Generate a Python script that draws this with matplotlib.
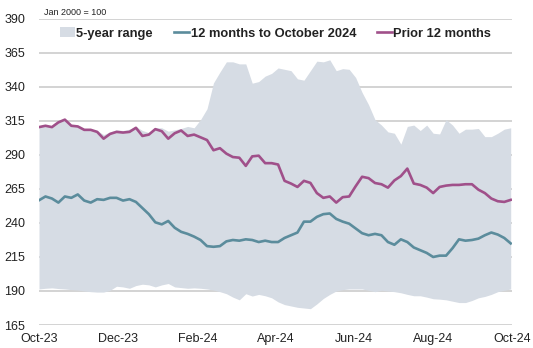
import numpy as np
import pandas as pd
import matplotlib
matplotlib.use("Agg")
import matplotlib.pyplot as plt
import matplotlib.dates as mdates
from matplotlib.patches import Patch
from matplotlib.lines import Line2D

plt.rcParams['font.family'] = ['Liberation Sans', 'DejaVu Sans']

# one reading every 5 days, Oct-23 .. Oct-24 (index: Jan 2000 = 100)
dates = pd.date_range('2023-10-01', periods=74, freq='5D')

range_high = [311, 312, 311, 315, 316.5, 312, 311.5, 309.5, 309, 308,
              305, 307, 308.5, 308, 309, 311, 308, 306.5, 310, 310,
              307.5, 308.5, 309.5, 311, 310, 316, 324, 343, 351, 358.5,
              358.5, 357, 357, 342.8, 344, 348, 350, 354, 353, 352,
              346, 345, 352, 359, 358.5, 360, 352, 353.5, 353, 347,
              336, 327, 316, 312, 307, 306, 298, 311, 312, 308,
              312, 306, 305.5, 316, 312, 306, 309, 309, 309.5, 303.5,
              303.5, 306, 309, 310]

range_low = [191.5, 192, 192.3, 191.8, 191.5, 191, 190.7, 190, 189.5, 189.2,
             189.2, 190.5, 193.5, 193, 192, 194, 195, 194.5, 193, 194.5,
             195.5, 193, 192.5, 192, 192.3, 192, 191.5, 190.7, 189.5, 188,
             185.5, 183.5, 188, 186.3, 187.5, 186.5, 185, 182, 180, 179,
             178, 177.5, 177, 180.5, 184.5, 187.5, 190, 191, 191.5, 191.5,
             191.5, 190.5, 189.5, 190.5, 190, 189.5, 188.7, 187.5, 186.5, 186.5,
             185.5, 184.3, 184, 183.5, 182.5, 181.5, 181.5, 183, 185, 186,
             187.5, 189.5, 190.5, 191.5]

last_12m = [256.7, 259.5, 258, 255, 259.5, 258.5, 261, 256.5, 255, 257.5,
            257, 258.5, 258.5, 256.5, 257.5, 255.5, 251, 246.5, 240.5, 239,
            241.5, 236.5, 233.5, 232, 230, 227.5, 223, 222.5, 223, 226.5,
            227.5, 227, 228, 227.5, 226, 227, 226, 226, 229, 231,
            233, 241, 241, 244.5, 246.5, 247, 243, 241, 239.5, 236,
            232.5, 231, 232, 231, 226, 224, 228, 226, 222, 220,
            218, 215, 216, 216, 221.5, 228, 227, 227.5, 228.5, 231,
            233, 231.5, 229, 225]

prior_12m = [310.5, 311.5, 310.5, 314, 316, 311.5, 311, 308.5, 308.5, 307,
             302, 305.5, 307, 306.5, 307, 310, 304, 305, 309, 307.5,
             302, 306, 308, 304, 305, 303, 301, 293.5, 295, 291,
             288.5, 288, 282, 289, 289.5, 284, 284, 283, 271, 269,
             266.5, 271, 269.5, 262, 258.5, 259.5, 255, 259, 259.5, 267,
             274, 273, 269.4, 268.5, 266, 271.3, 274.5, 280, 269, 268,
             266, 262, 266.5, 267.5, 268, 268, 268.5, 268.5, 264.5, 262,
             258, 256, 255.5, 257]

band_col = '#d6dce4'
teal = '#5b8c9c'
purple = '#a0508a'
grid_col = '#d0d0d0'

fig = plt.figure(figsize=(5.33, 3.48), dpi=100)
ax = fig.add_axes([39/533, 1 - 325/348, (512 - 39)/533, (325 - 19)/348])

ax.fill_between(dates, range_low, range_high, color=band_col, lw=0, zorder=2)
ax.plot(dates, last_12m, color=teal, lw=1.9, zorder=3)
ax.plot(dates, prior_12m, color=purple, lw=1.9, zorder=3)

ax.set_ylim(165, 390)
ax.set_yticks(np.arange(165, 391, 25))
ax.set_xlim(pd.Timestamp('2023-10-01'), pd.Timestamp('2024-10-01'))
ax.set_xticks(pd.date_range('2023-10-01', '2024-10-01', freq='2MS'))
ax.xaxis.set_major_formatter(mdates.DateFormatter('%b-%y'))

ax.grid(axis='y', color=grid_col, lw=1.3, zorder=1)
ax.set_axisbelow(True)
for s in ax.spines.values():
    s.set_visible(False)
ax.tick_params(length=0, labelsize=9, colors='#222222')
ax.tick_params(axis='y', pad=10)
ax.tick_params(axis='x', pad=6)

ax.text(0.01, 1.005, 'Jan 2000 = 100', transform=ax.transAxes,
        fontsize=6.5, color='#222222', va='bottom', ha='left')

handles = [Patch(facecolor=band_col, edgecolor='none'),
           Line2D([], [], color=teal, lw=1.9),
           Line2D([], [], color=purple, lw=1.9)]
labels = ['5-year range', '12 months to October 2024', 'Prior 12 months']
leg = ax.legend(handles, labels, loc='center', bbox_to_anchor=(0.5, 0.953),
                ncol=3, frameon=False, handlelength=1.2, handleheight=0.8,
                handletextpad=0.1, columnspacing=1.6,
                prop={'size': 9.3, 'weight': 'bold'})
for t in leg.get_texts():
    t.set_color('#222222')

fig.savefig('out.png', dpi=100)
